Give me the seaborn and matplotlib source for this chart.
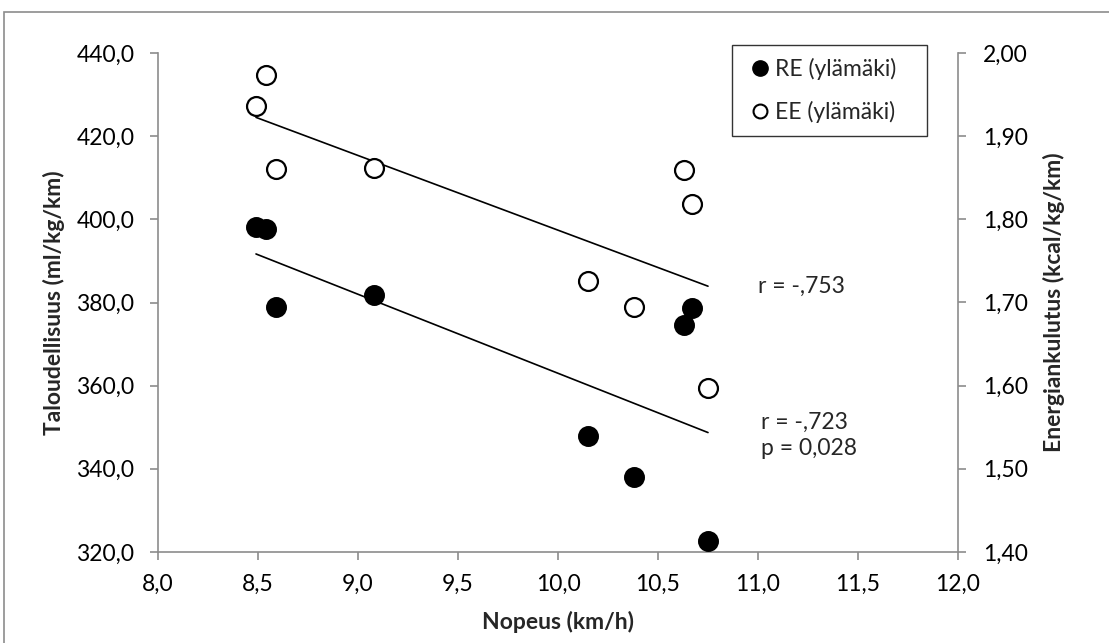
import matplotlib
matplotlib.use("Agg")
import matplotlib.pyplot as plt
import seaborn as sns
import pandas as pd
import numpy as np
from matplotlib.ticker import FuncFormatter, MultipleLocator
from matplotlib.lines import Line2D
from matplotlib.patches import Rectangle

# Data
speed = [8.49, 8.54, 8.59, 9.08, 10.15, 10.38, 10.63, 10.67, 10.75]
re_uphill = [398.2, 397.7, 378.9, 381.7, 347.9, 338.1, 374.7, 378.7, 322.6]
ee_uphill = [1.936, 1.974, 1.861, 1.862, 1.726, 1.694, 1.859, 1.818, 1.597]

series_names = ["RE (ylämäki)", "EE (ylämäki)"]
x_label = "Nopeus (km/h)"
y_left_label = "Taloudellisuus (ml/kg/km)"
y_right_label = "Energiankulutus (kcal/kg/km)"
ann_ee = "r = -,753"
ann_re = "r = -,723\np = 0,028"

df = pd.DataFrame({"speed": speed, "RE": re_uphill, "EE": ee_uphill})

sns.set_style("white")
plt.rcParams["font.family"] = ["Lato", "DejaVu Sans"]

FS = 16.5
W, H = 1109, 643
fig = plt.figure(figsize=(W / 100, H / 100), dpi=100)
ax_l, ax_r, ax_t, ax_b = 158, 958, 53, 552
ax = fig.add_axes([ax_l / W, 1 - ax_b / H, (ax_r - ax_l) / W, (ax_b - ax_t) / H])
ax2 = ax.twinx()

# outer chart border
fig.patches.append(Rectangle((4 / W, -0.05), 1.2, 1 - 12 / H + 0.05, transform=fig.transFigure,
                             fill=False, edgecolor="#8c8c8c", linewidth=1.2, zorder=0))

msize = 185
sns.scatterplot(data=df, x="speed", y="RE", ax=ax, s=msize, color="black",
                edgecolor="black", linewidth=1.5, zorder=3, legend=False)
sns.scatterplot(data=df, x="speed", y="EE", ax=ax2, s=msize, facecolor="white",
                edgecolor="black", linewidth=1.6, zorder=3, legend=False)
sns.regplot(data=df, x="speed", y="RE", ax=ax, scatter=False, ci=None, truncate=True,
            line_kws=dict(color="black", linewidth=1.2, zorder=2))
sns.regplot(data=df, x="speed", y="EE", ax=ax2, scatter=False, ci=None, truncate=True,
            line_kws=dict(color="black", linewidth=1.2, zorder=2))

ax.set_xlim(8.0, 12.0)
ax.set_ylim(320, 440)
ax2.set_ylim(1.40, 2.00)
ax.xaxis.set_major_locator(MultipleLocator(0.5))
ax.yaxis.set_major_locator(MultipleLocator(20))
ax2.yaxis.set_major_locator(MultipleLocator(0.1))
ax.xaxis.set_major_formatter(FuncFormatter(lambda v, p: f"{v:.1f}".replace(".", ",")))
ax.yaxis.set_major_formatter(FuncFormatter(lambda v, p: f"{v:.1f}".replace(".", ",")))
ax2.yaxis.set_major_formatter(FuncFormatter(lambda v, p: f"{v:.2f}".replace(".", ",")))

spine_c = "#8c8c8c"
for a in (ax, ax2):
    a.spines["top"].set_visible(False)
    for s in ("left", "right", "bottom"):
        a.spines[s].set_color(spine_c)
        a.spines[s].set_linewidth(1.2)
    a.set_facecolor("none")
ax.spines["right"].set_visible(False)
ax2.spines["left"].set_visible(False)
ax2.spines["bottom"].set_visible(False)

ax.tick_params(axis="both", direction="out", length=6, width=1.2, color=spine_c,
               labelsize=FS, labelcolor="black")
ax.tick_params(axis="y", left=True, pad=11)
ax.tick_params(axis="x", bottom=True, pad=10)
ax2.tick_params(axis="y", direction="out", length=6, width=1.2, color=spine_c,
                labelsize=FS, labelcolor="black", right=True, pad=12)

ax.set_xlabel(x_label, fontsize=FS, fontweight="bold")
ax.set_ylabel(y_left_label, fontsize=FS, fontweight="bold")
ax2.set_ylabel(y_right_label, fontsize=FS, fontweight="bold")
for lab in (ax.xaxis.label, ax.yaxis.label, ax2.yaxis.label):
    lab.set_horizontalalignment("center")
    lab.set_verticalalignment("center")
    lab.set_rotation_mode("anchor")
ax.xaxis.set_label_coords(0.5, -(622 - ax_b) / (ax_b - ax_t))
ax.yaxis.set_label_coords((54 - ax_l) / (ax_r - ax_l), 0.5)
ax2.yaxis.set_label_coords((1054 - ax_l) / (ax_r - ax_l), 0.5)

ax.text(11.0, 384, ann_ee, fontsize=FS, va="center", ha="left")
ax.text(11.015, 348, ann_re, fontsize=FS, va="center", ha="left", linespacing=1.3)

handles = [
    Line2D([], [], marker="o", linestyle="none", markersize=11, markerfacecolor="black",
           markeredgecolor="black"),
    Line2D([], [], marker="o", linestyle="none", markersize=10, markerfacecolor="white",
           markeredgecolor="black", markeredgewidth=1.5),
]
aw, ah = ax_r - ax_l, ax_b - ax_t
leg_box = ((732 - ax_l) / aw, (ax_b - 137) / ah, 195 / aw, 92 / ah)
leg = ax2.legend(handles, series_names, loc="upper left", bbox_to_anchor=leg_box,
                 mode="expand", frameon=True, fancybox=False, edgecolor="black", fontsize=FS,
                 handletextpad=0.0, handlelength=1.3, borderpad=0.57, labelspacing=0.92,
                 borderaxespad=0)
leg.get_frame().set_linewidth(1.0)

fig.savefig("out.png", dpi=100)
